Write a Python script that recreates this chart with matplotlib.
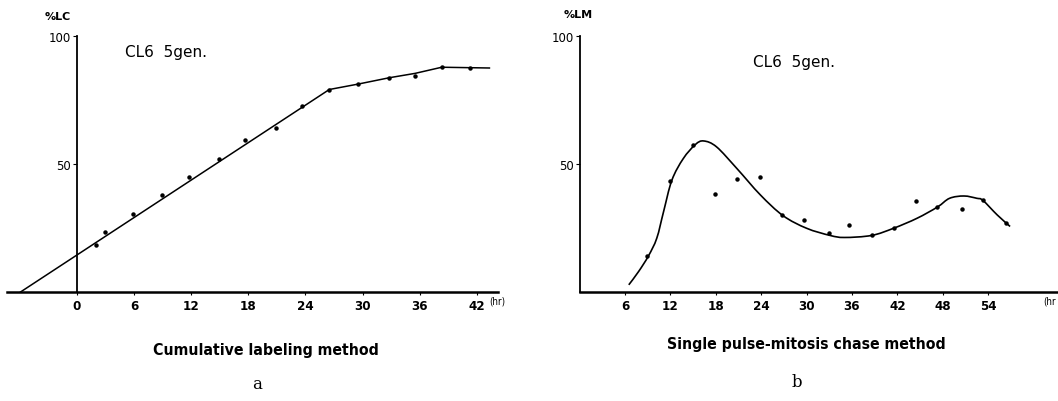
import matplotlib
matplotlib.use("Agg")
import matplotlib.pyplot as plt
from matplotlib.path import Path
from matplotlib.patches import PathPatch

# a: cumulative labeling (%LC)
lc_hours = [2, 3, 5.9, 8.9, 11.8, 14.9, 17.7, 20.9, 23.6, 26.5, 29.5, 32.8, 35.5, 38.3, 41.3]
lc_values = [18.3, 23.3, 30.4, 37.9, 45.0, 52.0, 59.4, 64.1, 72.5, 79.1, 81.2, 83.7, 84.4, 87.8, 87.5]
lc_fit_hours = [-5.9, 26.5, 29.5, 32.8, 35.5, 38.3, 43.3]
lc_fit_values = [0, 79.1, 81.2, 83.7, 85.4, 87.8, 87.5]

# b: single pulse-mitosis chase (%LM)
lm_hours = [8.9, 11.9, 15.0, 17.9, 20.8, 23.9, 26.7, 29.7, 33.0, 35.6, 38.6, 41.5, 44.5, 47.3, 50.5, 53.3, 56.4]
lm_values = [14.1, 43.5, 57.6, 38.4, 44.0, 44.9, 30.1, 28.0, 23.2, 26.3, 22.1, 24.9, 35.5, 33.2, 32.4, 35.8, 27.0]
# hand-drawn curve
lm_curve_hours = [6.5, 7.8, 9.1, 10.2, 11.1, 12.2, 13.7, 15.3, 16.4, 18.1, 20.8, 23.9, 26.9,
                  30.0, 33.1, 35.0, 38.6, 41.5, 44.6, 47.3, 48.9, 50.8, 52.5, 53.3, 55.2, 56.9]
lm_curve_values = [2.8, 8.0, 14.1, 21.0, 31.4, 43.7, 52.1, 57.6, 59.0, 56.7, 48.2, 37.9, 29.8,
                   24.9, 22.1, 21.3, 22.1, 24.9, 28.8, 33.2, 36.6, 37.5, 36.6, 35.8, 30.1, 25.6]

lc_ticks = [0, 6, 12, 18, 24, 30, 36, 42]
lm_ticks = [6, 12, 18, 24, 30, 36, 42, 48, 54]

W, H = 1058, 402
fig = plt.figure(figsize=(W / 100, H / 100), dpi=100)

tick_font = dict(family="DejaVu Sans", stretch="condensed", weight="bold", size=9.5)


def px(x, y):
    return x / W, 1 - y / H


def smooth_path(xs, ys):
    # catmull-rom through the read points, as cubic bezier segments
    verts = [(xs[0], ys[0])]
    codes = [Path.MOVETO]
    n = len(xs)
    for i in range(n - 1):
        x0, y0 = (xs[i - 1], ys[i - 1]) if i > 0 else (xs[i], ys[i])
        x1, y1 = xs[i], ys[i]
        x2, y2 = xs[i + 1], ys[i + 1]
        x3, y3 = (xs[i + 2], ys[i + 2]) if i + 2 < n else (x2, y2)
        verts += [(x1 + (x2 - x0) / 6, y1 + (y2 - y0) / 6),
                  (x2 - (x3 - x1) / 6, y2 - (y3 - y1) / 6),
                  (x2, y2)]
        codes += [Path.CURVE4] * 3
    return Path(verts, codes)


def style(ax, xticks):
    ax.set_ylim(0, 100)
    ax.spines["top"].set_visible(False)
    ax.spines["right"].set_visible(False)
    ax.spines["left"].set_position(("data", 0))
    ax.spines["left"].set_linewidth(1.3)
    ax.spines["bottom"].set_linewidth(1.8)
    ax.set_xticks(xticks)
    ax.set_yticks([50, 100])
    ax.tick_params(axis="x", length=2, width=0.8, pad=3)
    ax.tick_params(axis="y", length=3, width=0.8, pad=1)
    for lab in ax.get_xticklabels():
        lab.set_fontproperties(tick_font)
    for lab in ax.get_yticklabels():
        lab.set_fontsize(8.5)
    ax.patch.set_alpha(0)


ax1 = fig.add_axes([6.7 / W, 109 / H, (498 - 6.7) / W, 256 / H])
ax1.set_xlim(-7.35, 44.2)
style(ax1, lc_ticks)
ax1.plot(lc_fit_hours, lc_fit_values, color="black", lw=1.1)
ax1.plot(lc_hours, lc_values, "o", ms=2.2, color="black")

ax2 = fig.add_axes([579.6 / W, 109 / H, (1057 - 579.6) / W, 256 / H])
ax2.set_xlim(0, 63.1)
style(ax2, lm_ticks)
ax2.add_patch(PathPatch(smooth_path(lm_curve_hours, lm_curve_values),
                        facecolor="none", edgecolor="black", lw=1.2))
ax2.plot(lm_hours, lm_values, "o", ms=2.2, color="black")

fig.text(*px(45, 17), "%LC", fontsize=8, weight="bold", va="center")
fig.text(*px(564, 15), "%LM", fontsize=8, weight="bold", va="center")
fig.text(*px(125, 52), "CL6  5gen.", fontsize=11, va="center")
fig.text(*px(753, 62), "CL6  5gen.", fontsize=11, va="center")
fig.text(*px(497, 302), "(hr)", fontsize=7, va="center", ha="center", stretch="condensed")
fig.text(*px(1043, 302), "(hr", fontsize=7, va="center", ha="left", stretch="condensed")
fig.text(*px(266, 351), "Cumulative labeling method", fontsize=11.3, weight="bold",
         stretch="condensed", ha="center", va="center")
fig.text(*px(806, 345), "Single pulse-mitosis chase method", fontsize=11.3, weight="bold",
         stretch="condensed", ha="center", va="center")
fig.text(*px(257, 385), "a", fontsize=12, family="DejaVu Serif", ha="center", va="center")
fig.text(*px(797, 383), "b", fontsize=12, family="DejaVu Serif", ha="center", va="center")

fig.savefig("out.png", dpi=100)
